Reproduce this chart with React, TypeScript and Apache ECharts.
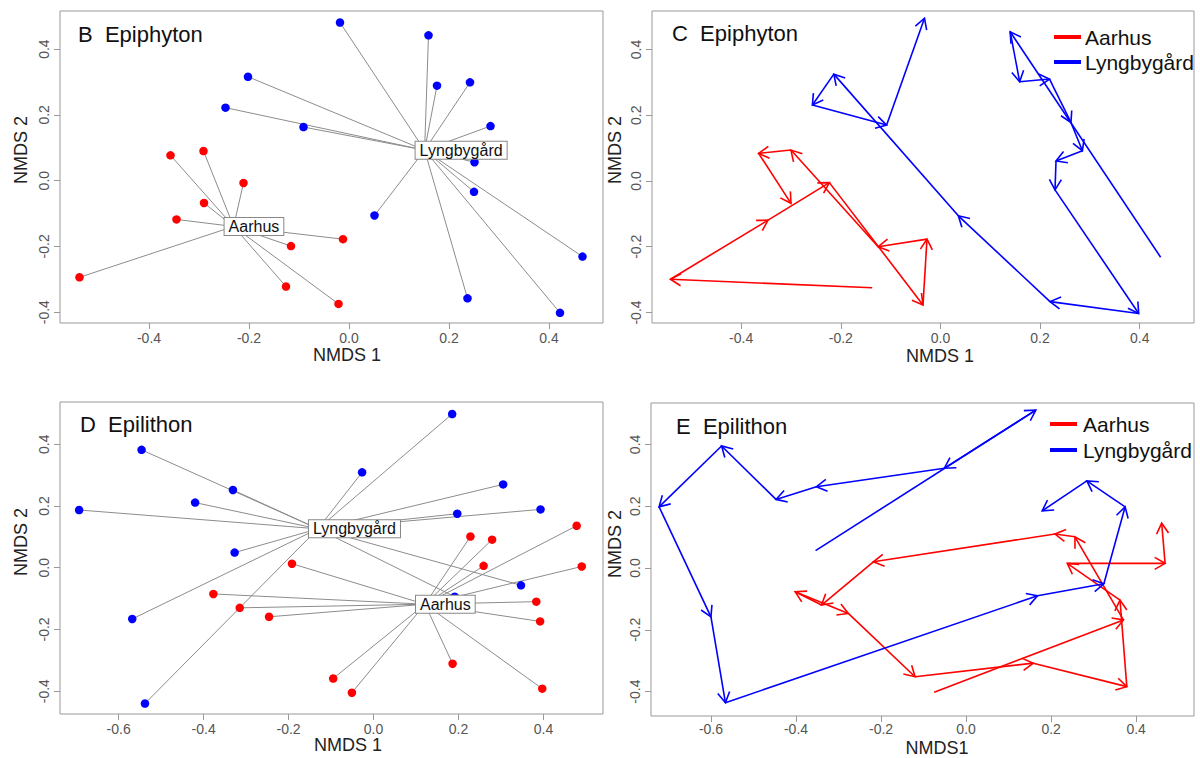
import React, { useEffect, useRef } from "react";
import * as echarts from "echarts";

// ---------- Panel B: Epiphyton spider (NMDS 1, NMDS 2) ----------
const epiAarhusPts: number[][] = [
  [-0.357, 0.077], [-0.291, 0.09], [-0.211, -0.007], [-0.29, -0.068], [-0.345, -0.118],
  [-0.012, -0.178], [-0.116, -0.199], [-0.539, -0.294], [-0.126, -0.322], [-0.021, -0.375],
];
const epiLyngPts: number[][] = [
  [-0.018, 0.481], [0.159, 0.442], [0.176, 0.289], [0.242, 0.299], [-0.202, 0.316],
  [-0.247, 0.222], [-0.091, 0.163], [0.283, 0.166], [0.288, 0.088], [0.251, 0.056],
  [0.25, -0.034], [0.051, -0.106], [0.467, -0.231], [0.237, -0.358], [0.422, -0.402],
];

// ---------- Panel C: Epiphyton trajectories (in time order) ----------
const epiAarhusPath: number[][] = [
  [-0.137, -0.325], [-0.542, -0.299], [-0.346, -0.119], [-0.223, -0.005], [-0.035, -0.377],
  [-0.027, -0.177], [-0.125, -0.2], [-0.3, 0.094], [-0.365, 0.084], [-0.3, -0.068],
];
const epiLyngPath: number[][] = [
  [0.442, -0.232], [0.14, 0.454], [0.159, 0.302], [0.219, 0.31], [0.262, 0.178],
  [0.285, 0.092], [0.232, 0.061], [0.23, -0.027], [0.398, -0.403], [0.22, -0.367],
  [0.036, -0.106], [-0.214, 0.325], [-0.257, 0.231], [-0.108, 0.17], [-0.032, 0.495],
];

// ---------- Panel D: Epilithon spider ----------
const litAarhusPts: number[][] = [
  [0.478, 0.136], [0.228, 0.101], [0.279, 0.091], [-0.192, 0.013], [0.259, 0.006],
  [0.49, 0.004], [-0.377, -0.085], [-0.315, -0.13], [-0.246, -0.159], [0.383, -0.11],
  [0.392, -0.174], [0.186, -0.311], [-0.095, -0.359], [-0.051, -0.405], [0.397, -0.392],
];
const litLyngPts: number[][] = [
  [0.185, 0.498], [-0.546, 0.382], [-0.027, 0.309], [-0.331, 0.252], [0.305, 0.27],
  [-0.42, 0.211], [-0.693, 0.187], [0.197, 0.175], [0.393, 0.189], [-0.327, 0.049],
  [0.347, -0.057], [0.191, -0.094], [-0.568, -0.166], [-0.538, -0.44],
];

// ---------- Panel E: Epilithon trajectories ----------
const litAarhusPath: number[][] = [
  [-0.075, -0.402], [0.37, -0.168], [0.256, 0.101], [0.209, 0.11], [-0.218, 0.02],
  [-0.34, -0.12], [-0.402, -0.077], [-0.277, -0.147], [-0.12, -0.352], [0.158, -0.308],
  [0.378, -0.384], [0.362, -0.104], [0.238, 0.015], [0.468, 0.015], [0.46, 0.145],
];
const litLyngPath: number[][] = [
  [-0.354, 0.056], [0.164, 0.511], [-0.051, 0.323], [-0.352, 0.263], [-0.447, 0.222],
  [-0.575, 0.395], [-0.722, 0.198], [-0.6, -0.158], [-0.566, -0.436], [0.168, -0.09],
  [0.324, -0.051], [0.374, 0.198], [0.284, 0.282], [0.179, 0.185],
];

// ---------- tick labels ----------
const ticksEpiX = [-0.4, -0.2, 0, 0.2, 0.4];
const ticksLitX = [-0.6, -0.4, -0.2, 0, 0.2, 0.4];
const ticksY = [-0.4, -0.2, 0, 0.2, 0.4];

const groups = ["Aarhus", "Lyngbygård"];
const RED = "#ff0000";
const BLUE = "#0000ff";
const FONT = "'Liberation Sans', Arial, Helvetica, sans-serif";

function centroid(pts: number[][]): number[] {
  const n = pts.length;
  return [pts.reduce((s, p) => s + p[0], 0) / n, pts.reduce((s, p) => s + p[1], 0) / n];
}

function segments(path: number[][]): number[][] {
  return path.slice(0, -1).map((p, i) => [p[0], p[1], path[i + 1][0], path[i + 1][1]]);
}

function arrowRenderer(color: string) {
  return (_params: any, api: any) => {
    const a = api.coord([api.value(0), api.value(1)]);
    const b = api.coord([api.value(2), api.value(3)]);
    const ang = Math.atan2(b[1] - a[1], b[0] - a[0]);
    const L = 12;
    const phi = Math.PI / 6;
    const p1 = [b[0] - L * Math.cos(ang - phi), b[1] - L * Math.sin(ang - phi)];
    const p2 = [b[0] - L * Math.cos(ang + phi), b[1] - L * Math.sin(ang + phi)];
    return {
      type: "group",
      children: [
        { type: "line", shape: { x1: a[0], y1: a[1], x2: b[0], y2: b[1] }, style: { stroke: color, lineWidth: 1.6 } },
        { type: "polyline", shape: { points: [p1, b, p2] }, style: { stroke: color, lineWidth: 1.6, fill: null } },
      ],
    };
  };
}

function xAxisCfg(gi: number, min: number, max: number, ticks: number[], margin = 8) {
  return {
    type: "value", gridIndex: gi, min, max, position: "bottom",
    splitLine: { show: false },
    axisLine: { show: false, onZero: false },
    axisTick: { show: true, length: 6, lineStyle: { color: "#999" }, customValues: ticks },
    axisLabel: {
      customValues: ticks, formatter: (v: number) => v.toFixed(1),
      color: "#555", fontSize: 14, margin, fontFamily: FONT,
    },
  };
}
function yAxisCfg(gi: number, min: number, max: number, ticks: number[]) {
  return {
    type: "value", gridIndex: gi, min, max, position: "left",
    splitLine: { show: false },
    axisLine: { show: false, onZero: false },
    axisTick: { show: true, length: 6, lineStyle: { color: "#999" }, customValues: ticks },
    axisLabel: {
      customValues: ticks, formatter: (v: number) => v.toFixed(1), rotate: 90,
      color: "#555", fontSize: 14, margin: 9, fontFamily: FONT,
    },
  };
}

function spiderSeries(gi: number, pts: number[][], color: string) {
  const c = centroid(pts);
  return [
    {
      type: "lines", coordinateSystem: "cartesian2d", xAxisIndex: gi, yAxisIndex: gi,
      data: pts.map((p) => ({ coords: [c, p] })),
      lineStyle: { color: "#8c8c8c", width: 1, opacity: 1 }, silent: true, z: 2,
    },
    {
      type: "scatter", xAxisIndex: gi, yAxisIndex: gi, data: pts, symbol: "circle", symbolSize: 8.5,
      itemStyle: { color, opacity: 1 }, silent: true, z: 3,
    },
  ];
}

function arrowSeries(gi: number, path: number[][], color: string) {
  return {
    type: "custom", xAxisIndex: gi, yAxisIndex: gi, data: segments(path),
    renderItem: arrowRenderer(color), encode: { x: [0, 2], y: [1, 3] },
    clip: false, silent: true, z: 3,
  };
}

function txt(x: number, y: number, text: string, size: number, align = "left", rotation = 0, color = "#111") {
  return {
    type: "text", x, y, rotation,
    style: { text, fontSize: size, fontFamily: FONT, fill: color, textAlign: align, textVerticalAlign: "middle" },
    z: 10,
  };
}
function legendLine(x1: number, x2: number, y: number, color: string) {
  return { type: "line", shape: { x1, y1: y, x2, y2: y }, style: { stroke: color, lineWidth: 4 }, z: 10 };
}

export default function App() {
  const ref = useRef<HTMLDivElement>(null);
  useEffect(() => {
    if (!ref.current) return;
    const chart = echarts.init(ref.current, null, { renderer: "svg" });
    const gridBase = { show: true, borderColor: "#999", borderWidth: 1, backgroundColor: "transparent", containLabel: false };
    const baseGraphic: any[] = [
      txt(78, 34, "B  Epiphyton", 22),
      txt(672, 33, "C  Epiphyton", 22),
      txt(80, 424, "D  Epilithon", 22),
      txt(676, 426, "E  Epilithon", 22),
      txt(347, 355, "NMDS 1", 18, "center", 0, "#222"),
      txt(940, 356, "NMDS 1", 18, "center", 0, "#222"),
      txt(348, 745, "NMDS 1", 18, "center", 0, "#222"),
      txt(937, 748, "NMDS1", 18, "center", 0, "#222"),
      txt(21, 150, "NMDS 2", 18, "center", Math.PI / 2, "#222"),
      txt(615, 150, "NMDS 2", 18, "center", Math.PI / 2, "#222"),
      txt(21, 542, "NMDS 2", 18, "center", Math.PI / 2, "#222"),
      txt(615, 544, "NMDS 2", 18, "center", Math.PI / 2, "#222"),
      legendLine(1054, 1081, 37, RED),
      legendLine(1054, 1081, 62, BLUE),
      txt(1085, 37, groups[0], 21),
      txt(1085, 62, groups[1], 21),
      legendLine(1050, 1077, 424, RED),
      legendLine(1050, 1077, 450, BLUE),
      txt(1083, 424, groups[0], 21),
      txt(1083, 450, groups[1], 21),
    ];
    const option: any = {
      animation: false,
      backgroundColor: "#ffffff",
      textStyle: { fontFamily: FONT },
      grid: [
        { ...gridBase, left: 60, top: 11, width: 543, height: 312 },
        { ...gridBase, left: 652, top: 11, width: 542, height: 312 },
        { ...gridBase, left: 60, top: 402, width: 543, height: 312 },
        { ...gridBase, left: 651, top: 403, width: 543, height: 313 },
      ],
      xAxis: [
        xAxisCfg(0, -0.578, 0.508, ticksEpiX),
        xAxisCfg(1, -0.579, 0.509, ticksEpiX),
        xAxisCfg(2, -0.738, 0.54, ticksLitX),
        xAxisCfg(3, -0.741, 0.536, ticksLitX, 6),
      ],
      yAxis: [
        yAxisCfg(0, -0.433, 0.516, ticksY),
        yAxisCfg(1, -0.432, 0.517, ticksY),
        yAxisCfg(2, -0.474, 0.537, ticksY),
        yAxisCfg(3, -0.479, 0.534, ticksY),
      ],
      series: [
        ...spiderSeries(0, epiAarhusPts, RED),
        ...spiderSeries(0, epiLyngPts, BLUE),
        arrowSeries(1, epiAarhusPath, RED),
        arrowSeries(1, epiLyngPath, BLUE),
        ...spiderSeries(2, litAarhusPts, RED),
        ...spiderSeries(2, litLyngPts, BLUE),
        arrowSeries(3, litAarhusPath, RED),
        arrowSeries(3, litLyngPath, BLUE),
      ],
      graphic: baseGraphic,
    };
    chart.setOption(option);

    // centroid labels (ordispider style), placed through the grids' own scales
    const labelDefs: [number, number[][], string][] = [
      [0, epiAarhusPts, groups[0]],
      [0, epiLyngPts, groups[1]],
      [2, litAarhusPts, groups[0]],
      [2, litLyngPts, groups[1]],
    ];
    const labels = labelDefs.map(([gi, pts, name]) => {
      const px = chart.convertToPixel({ gridIndex: gi } as any, centroid(pts)) as number[];
      return {
        type: "text", x: px[0] - 9, y: px[1], z: 100,
        style: {
          text: name, fontSize: 16, fontFamily: FONT, fill: "#111",
          textAlign: "left", textVerticalAlign: "middle",
          backgroundColor: "#ffffff", borderColor: "#888", borderWidth: 1, padding: [1, 4, 0, 4],
        },
      };
    });
    chart.setOption({ graphic: [...baseGraphic, ...labels] });
    return () => chart.dispose();
  }, []);
  return (
    <div
      ref={ref}
      style={{ position: "absolute", left: 0, top: 0, width: 1200, height: 758, background: "#fff" }}
    />
  );
}
